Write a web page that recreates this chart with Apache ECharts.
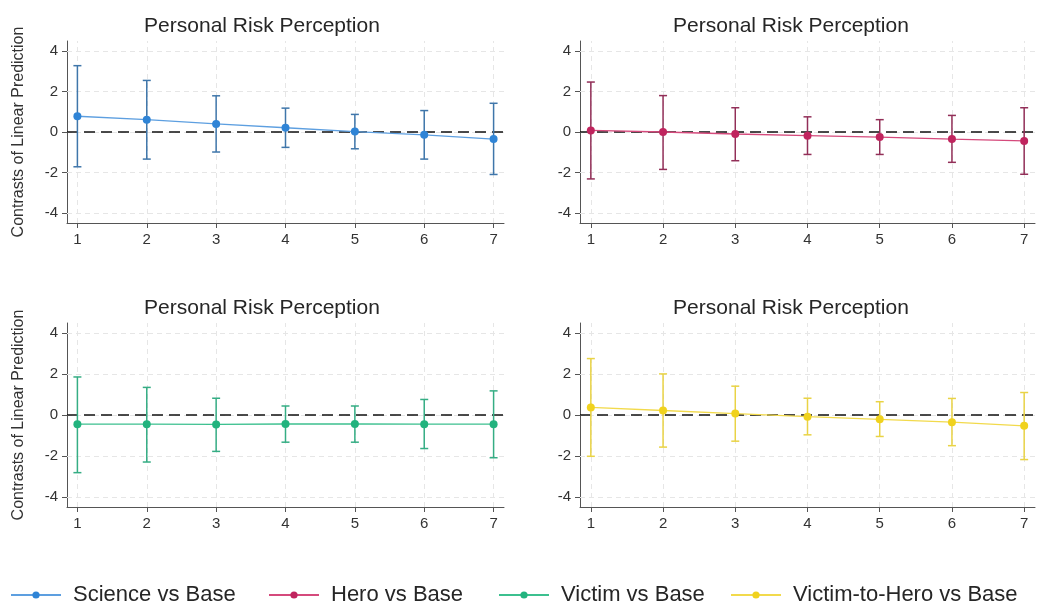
<!DOCTYPE html>
<html>
<head>
<meta charset="utf-8">
<script src="https://cdn.jsdelivr.net/npm/echarts@6/dist/echarts.min.js"></script>
<style>html,body{margin:0;padding:0;background:#fff;}#c{width:1037px;height:606px;}</style>
</head>
<body>
<div id="c"></div>
<script>
const xValues = [1, 2, 3, 4, 5, 6, 7];
const yTicks = [-4, -2, 0, 2, 4];
const panelTitle = 'Personal Risk Perception';
const yAxisTitle = 'Contrasts of Linear Prediction';
const seriesNames = ['Science vs Base', 'Hero vs Base', 'Victim vs Base', 'Victim-to-Hero vs Base'];

const scienceMean = [0.78, 0.61, 0.40, 0.21, 0.02, -0.14, -0.35];
const scienceLow  = [-1.72, -1.34, -0.99, -0.76, -0.83, -1.34, -2.10];
const scienceHigh = [3.28, 2.55, 1.79, 1.18, 0.87, 1.06, 1.42];

const heroMean = [0.08, 0.00, -0.10, -0.18, -0.25, -0.35, -0.44];
const heroLow  = [-2.32, -1.85, -1.42, -1.11, -1.11, -1.50, -2.09];
const heroHigh = [2.47, 1.80, 1.20, 0.75, 0.61, 0.82, 1.20];

const victimMean = [-0.45, -0.45, -0.46, -0.44, -0.44, -0.45, -0.45];
const victimLow  = [-2.82, -2.30, -1.78, -1.33, -1.33, -1.64, -2.09];
const victimHigh = [1.86, 1.35, 0.82, 0.44, 0.44, 0.76, 1.18];

const vthMean = [0.37, 0.22, 0.07, -0.08, -0.21, -0.35, -0.53];
const vthLow  = [-2.02, -1.57, -1.28, -0.97, -1.05, -1.50, -2.18];
const vthHigh = [2.76, 2.01, 1.41, 0.82, 0.65, 0.81, 1.10];

const FONT = "'Liberation Sans', Arial, Helvetica, sans-serif";
const means = [scienceMean, heroMean, victimMean, vthMean];
const lows = [scienceLow, heroLow, victimLow, vthLow];
const highs = [scienceHigh, heroHigh, victimHigh, vthHigh];
const markerColors = ['#2f84d6', '#c0245e', '#22b37e', '#f0d21e'];
const lineColors = ['#5d9fe0', '#d54a7c', '#3cc08f', '#f2da4c'];
const ciColors = ['#3f76aa', '#922f58', '#35ad84', '#e9d345'];

const grids = [
  {left: 67, top: 41, width: 437, height: 182},
  {left: 580, top: 41, width: 455, height: 182},
  {left: 67, top: 323, width: 437, height: 184},
  {left: 580, top: 323, width: 455, height: 184}
];
const titlePos = [[257, 11], [786, 11], [257, 293], [786, 293]];
const legendLeft = [10, 268, 498, 730];

const option = {
  animation: false,
  backgroundColor: '#ffffff',
  textStyle: {fontFamily: FONT},
  title: titlePos.map(p => ({
    text: panelTitle, left: p[0], top: p[1], textAlign: 'center',
    textStyle: {fontFamily: FONT, fontSize: 21, fontWeight: 'normal', color: '#262626'}
  })),
  legend: seriesNames.map((n, i) => ({
    data: [n], left: legendLeft[i], top: 584, itemWidth: 50, itemHeight: 9,
    itemGap: 0, padding: 0, selectedMode: false,
    lineStyle: {width: 2},
    textStyle: {fontFamily: FONT, fontSize: 22, color: '#262626', padding: [0, 0, 0, 7]}
  })),
  grid: grids.map(g => Object.assign({containLabel: false}, g)),
  xAxis: grids.map((g, i) => ({
    type: 'value', gridIndex: i, min: 0.85, max: 7.15,
    axisLine: {show: true, onZero: false, lineStyle: {color: '#555', width: 1}},
    axisTick: {show: true, length: 5, customValues: xValues, lineStyle: {color: '#555'}},
    axisLabel: {customValues: xValues, fontSize: 15, color: '#333', margin: 9, fontFamily: FONT},
    splitLine: {show: false}
  })),
  yAxis: grids.map((g, i) => ({
    type: 'value', gridIndex: i, min: -4.5, max: 4.5,
    name: (i % 2 === 0) ? yAxisTitle : '',
    nameLocation: 'middle', nameGap: 40,
    nameTextStyle: {fontFamily: FONT, fontSize: 16, color: '#333'},
    axisLine: {show: true, onZero: false, lineStyle: {color: '#555', width: 1}},
    axisTick: {show: true, length: 5, customValues: yTicks, lineStyle: {color: '#555'}},
    axisLabel: {customValues: yTicks, fontSize: 15, color: '#333', margin: 9, fontFamily: FONT},
    splitLine: {show: false}
  })),
  series: []
};

for (let i = 0; i < 4; i++) {
  // confidence interval caps
  option.series.push({
    type: 'custom', name: seriesNames[i] + ' CI', xAxisIndex: i, yAxisIndex: i, z: 3,
    data: xValues.map((x, k) => [x, lows[i][k], highs[i][k]]),
    encode: {x: 0, y: [1, 2]},
    renderItem: (function (col) {
      return function (params, api) {
        const x = api.value(0);
        const pHi = api.coord([x, api.value(2)]);
        const pLo = api.coord([x, api.value(1)]);
        const w = 4;
        const st = {stroke: col, lineWidth: 1.5};
        return {type: 'group', children: [
          {type: 'line', shape: {x1: pHi[0], y1: pHi[1], x2: pLo[0], y2: pLo[1]}, style: st},
          {type: 'line', shape: {x1: pHi[0] - w, y1: pHi[1], x2: pHi[0] + w, y2: pHi[1]}, style: st},
          {type: 'line', shape: {x1: pLo[0] - w, y1: pLo[1], x2: pLo[0] + w, y2: pLo[1]}, style: st}
        ]};
      };
    })(ciColors[i]),
    markLine: {
      silent: true, symbol: 'none', z: 1, animation: false,
      label: {show: false},
      lineStyle: {color: '#e6e6e6', type: [5, 4], width: 1},
      data: xValues.map(v => ({xAxis: v})).concat(yTicks.map(v => ({yAxis: v})))
    }
  });
  // estimates
  option.series.push({
    type: 'line', name: seriesNames[i], xAxisIndex: i, yAxisIndex: i, z: 4,
    data: xValues.map((x, k) => [x, means[i][k]]),
    symbol: 'circle', symbolSize: 8, showSymbol: true,
    itemStyle: {color: markerColors[i]},
    lineStyle: {color: lineColors[i], width: 1.3},
    markLine: {
      silent: true, symbol: 'none', z: 3, animation: false,
      label: {show: false},
      lineStyle: {color: '#111', type: [11, 6], width: 1.7},
      data: [{yAxis: 0}]
    }
  });
}

const chart = echarts.init(document.getElementById('c'), null, {renderer: 'canvas'});
chart.setOption(option);
</script>
</body>
</html>
